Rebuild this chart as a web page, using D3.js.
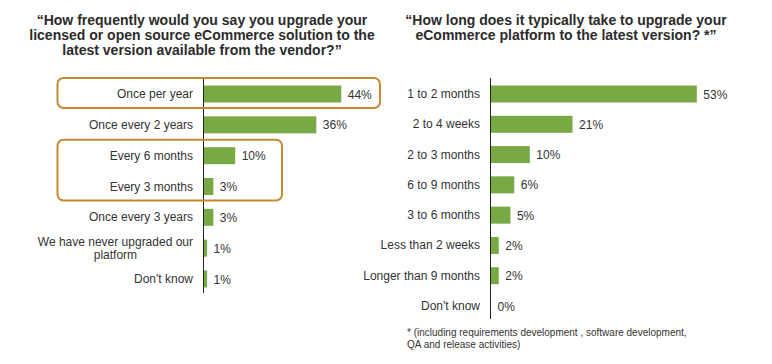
<!DOCTYPE html>
<html>
<head>
<meta charset="utf-8">
<script src="https://cdn.jsdelivr.net/npm/d3@7"></script>
<style>
  html, body { margin: 0; padding: 0; background: #fff; }
  svg { display: block; font-family: Arial, "Liberation Sans", sans-serif; }
</style>
</head>
<body>
<svg id="chart" width="772" height="364"></svg>
<script>
// ---- Data ----
const leftTitle = ["\u201CHow frequently would you say you upgrade your",
                   "licensed or open source eCommerce solution to the",
                   "latest version available from the vendor?\u201D"];
const leftCategories = ["Once per year", "Once every 2 years", "Every 6 months", "Every 3 months",
                        "Once every 3 years", "We have never upgraded our|platform", "Don't know"];
const leftValues = [44, 36, 10, 3, 3, 1, 1];
const leftHighlights = [["Once per year", "Once per year"], ["Every 6 months", "Every 3 months"]];

const rightTitle = ["\u201CHow long does it typically take to upgrade your",
                    "eCommerce platform to the latest version? *\u201D"];
const rightCategories = ["1 to 2 months", "2 to 4 weeks", "2 to 3 months", "6 to 9 months",
                         "3 to 6 months", "Less than 2 weeks", "Longer than 9 months", "Don't know"];
const rightValues = [53, 21, 10, 6, 5, 2, 2, 0];
const footnote = ["*  (including requirements development , software development,",
                  "QA and release activities)"];

// ---- Styles ----
const green = "#78a944";
const boxColor = "#c48a30";
const textColor = "#333333";

const svg = d3.select("#chart");

function drawTitle(lines, cx, y0) {
  const t = svg.append("text").attr("text-anchor", "middle")
    .attr("font-size", 14).attr("font-weight", "bold").attr("fill", "#2b2b2b");
  lines.forEach((l, i) => t.append("tspan").attr("x", cx).attr("y", y0 + i * 15).text(l));
}

function drawPanel(opts) {
  const { cats, vals, axisX, xMax, pxWidth, yFirst, yLast, axisTop, axisBottom, labelGap, minBar } = opts;
  const x = d3.scaleLinear().domain([0, xMax]).range([axisX, axisX + pxWidth]);
  const y = d3.scalePoint().domain(cats).range([yFirst, yLast]);
  const barH = 17;
  const g = svg.append("g");

  g.selectAll("rect.bar").data(cats).join("rect")
    .attr("class", "bar")
    .attr("x", x(0) + 0.5)
    .attr("y", d => y(d) - barH / 2)
    .attr("width", (d, i) => vals[i] > 0 ? Math.max(x(vals[i]) - x(0), minBar) : 0)
    .attr("height", barH)
    .attr("fill", green);

  // axis line (category axis) via d3.axisLeft with no ticks
  const axis = d3.axisLeft(y).tickSize(0).tickFormat("");
  const ag = g.append("g").attr("transform", `translate(${axisX},0)`).call(axis);
  ag.select(".domain").remove();
  g.append("line").attr("x1", axisX).attr("x2", axisX)
    .attr("y1", axisTop).attr("y2", axisBottom)
    .attr("stroke", "#222").attr("stroke-width", 1);

  // category labels
  cats.forEach((c, i) => {
    const lines = c.split("|");
    const t = g.append("text").attr("fill", textColor).attr("font-size", 12);
    if (lines.length === 1) {
      t.attr("x", axisX - labelGap).attr("y", y(c) + 4).attr("text-anchor", "end").text(c);
    } else {
      // centered block whose right edge sits at label edge
      const tmp = g.append("text").attr("font-size", 12).text(lines[0]);
      const w = tmp.node().getComputedTextLength();
      tmp.remove();
      const cx = axisX - labelGap - w / 2;
      t.attr("text-anchor", "middle");
      lines.forEach((l, j) => t.append("tspan").attr("x", cx)
        .attr("y", y(c) - 2 + j * 13).text(l));
    }
  });

  // value labels
  g.selectAll("text.val").data(cats).join("text")
    .attr("class", "val")
    .attr("x", (d, i) => axisX + (vals[i] > 0 ? Math.max(x(vals[i]) - x(0), minBar) : 0) + 7)
    .attr("y", d => y(d) + 4.5)
    .attr("font-size", 12).attr("fill", textColor)
    .text((d, i) => vals[i] + "%");

  return { x, y };
}

drawTitle(leftTitle, 202, 25);
drawTitle(rightTitle, 566, 25);

const L = drawPanel({
  cats: leftCategories, vals: leftValues, axisX: 203.5, xMax: 50, pxWidth: 156,
  yFirst: 94, yLast: 279, axisTop: 77, axisBottom: 293, labelGap: 10.5, minBar: 3
});

// highlight boxes
leftHighlights.forEach((h, i) => {
  const y0 = L.y(h[0]) - 16, y1 = L.y(h[1]) + 14;
  const x0 = 57.5, x1 = i === 0 ? 380 : 282;
  svg.append("rect").attr("x", x0).attr("y", y0).attr("width", x1 - x0).attr("height", y1 - y0)
    .attr("rx", 6).attr("ry", 6).attr("fill", "none")
    .attr("stroke", boxColor).attr("stroke-width", 2);
});

const R = drawPanel({
  cats: rightCategories, vals: rightValues, axisX: 490.5, xMax: 60, pxWidth: 233,
  yFirst: 94, yLast: 306, axisTop: 78, axisBottom: 319, labelGap: 10.5, minBar: 3
});

const fn = svg.append("text").attr("font-size", 10).attr("fill", textColor);
footnote.forEach((l, i) => fn.append("tspan").attr("x", 407).attr("y", 336 + i * 12).text(l));
</script>
</body>
</html>
